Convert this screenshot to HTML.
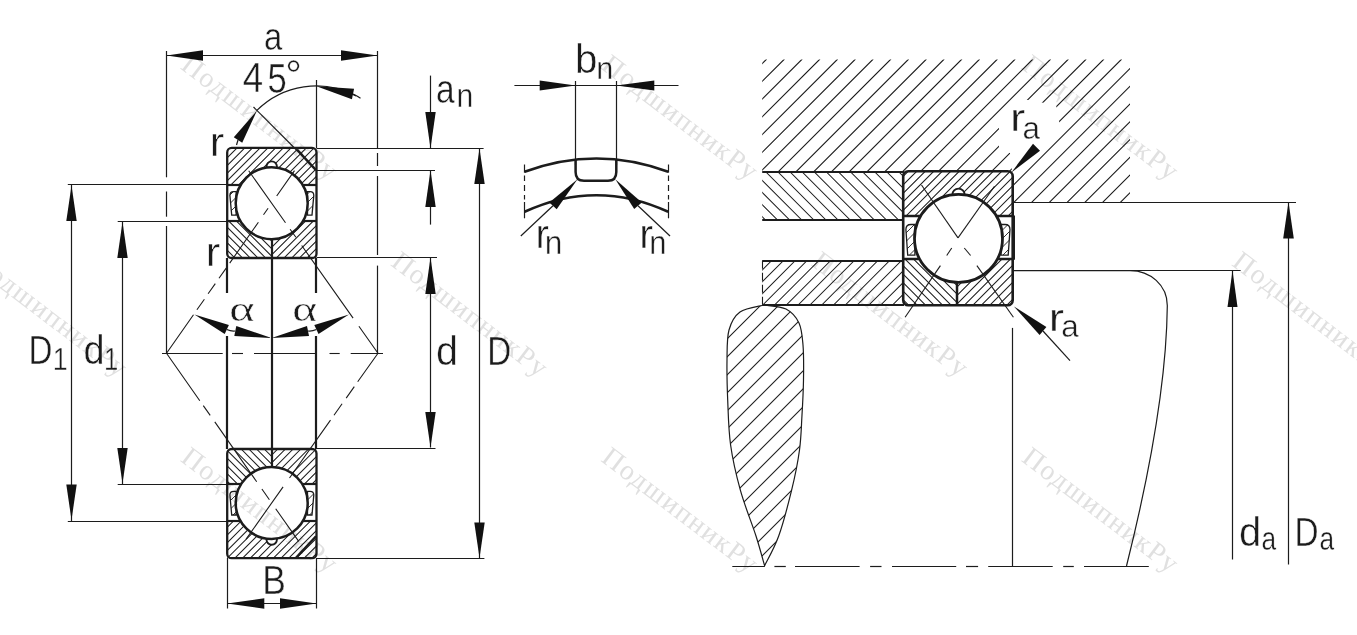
<!DOCTYPE html>
<html><head><meta charset="utf-8"><style>
html,body{margin:0;padding:0;background:#fff;}
svg{display:block;}
text{font-family:"Liberation Sans",sans-serif;}
text.wm,text.serif{font-family:"Liberation Serif",serif;}
</style></head><body>
<svg width="1357" height="635" viewBox="0 0 1357 635">
<rect width="1357" height="635" fill="#fff"/>
<line x1="166.5" y1="55.5" x2="377.5" y2="55.5" stroke="#1c1c1c" stroke-width="1.2" />
<polygon points="166.5,55.5 203.0,60.8 203.0,50.2" fill="#111"/>
<polygon points="377.5,55.5 341.0,50.2 341.0,60.8" fill="#111"/>
<line x1="166.5" y1="51.0" x2="166.5" y2="177.3" stroke="#1c1c1c" stroke-width="1.2" />
<line x1="166.5" y1="191.5" x2="166.5" y2="216.7" stroke="#1c1c1c" stroke-width="1.2" />
<line x1="166.5" y1="226.0" x2="166.5" y2="353.0" stroke="#1c1c1c" stroke-width="1.2" />
<line x1="377.5" y1="51.0" x2="377.5" y2="148.0" stroke="#1c1c1c" stroke-width="1.2" />
<line x1="377.5" y1="153.0" x2="377.5" y2="166.0" stroke="#1c1c1c" stroke-width="1.2" />
<line x1="377.5" y1="176.0" x2="377.5" y2="255.0" stroke="#1c1c1c" stroke-width="1.2" />
<line x1="377.5" y1="265.6" x2="377.5" y2="353.0" stroke="#1c1c1c" stroke-width="1.2" />
<path d="M256.6,110.7 A84.5,84.5 0 0 1 356.1,95.9" fill="none" stroke="#1c1c1c" stroke-width="1.2" />
<polygon points="316.4,86.2 351.9,99.2 354.1,88.8" fill="#111"/>
<path d="M353,94 Q357,95.8 360.5,98.3" fill="none" stroke="#1c1c1c" stroke-width="1.1" />
<line x1="316.5" y1="80.0" x2="316.5" y2="148.0" stroke="#1c1c1c" stroke-width="1.2" />
<line x1="253.5" y1="107.0" x2="297.5" y2="151.0" stroke="#1c1c1c" stroke-width="1.2" />
<polygon points="257.0,110.5 233.8,137.3 242.2,142.7" fill="#111"/>
<line x1="238.0" y1="140.0" x2="236.5" y2="145.0" stroke="#1c1c1c" stroke-width="1.2" />
<clipPath id="c1"><path d="M227.2,147.9 H316.5 V184.6 H227.2 Z"/></clipPath>
<path clip-path="url(#c1)" d="M221.70,147.9 L185.00,184.6 M229.40,147.9 L192.70,184.6 M237.10,147.9 L200.40,184.6 M244.80,147.9 L208.10,184.6 M252.50,147.9 L215.80,184.6 M260.20,147.9 L223.50,184.6 M267.90,147.9 L231.20,184.6 M275.60,147.9 L238.90,184.6 M283.30,147.9 L246.60,184.6 M291.00,147.9 L254.30,184.6 M298.70,147.9 L262.00,184.6 M306.40,147.9 L269.70,184.6 M314.10,147.9 L277.40,184.6 M321.80,147.9 L285.10,184.6 M329.50,147.9 L292.80,184.6 M337.20,147.9 L300.50,184.6 M344.90,147.9 L308.20,184.6 M352.60,147.9 L315.90,184.6" stroke="#1c1c1c" stroke-width="1.05" fill="none"/>
<clipPath id="c2"><path d="M227.2,221.1 H272.0 V258.0 H227.2 Z"/></clipPath>
<path clip-path="url(#c2)" d="M182.60,221.1 L219.50,258.0 M190.30,221.1 L227.20,258.0 M198.00,221.1 L234.90,258.0 M205.70,221.1 L242.60,258.0 M213.40,221.1 L250.30,258.0 M221.10,221.1 L258.00,258.0 M228.80,221.1 L265.70,258.0 M236.50,221.1 L273.40,258.0 M244.20,221.1 L281.10,258.0 M251.90,221.1 L288.80,258.0 M259.60,221.1 L296.50,258.0 M267.30,221.1 L304.20,258.0" stroke="#1c1c1c" stroke-width="1.05" fill="none"/>
<clipPath id="c3"><path d="M272.0,221.1 H316.5 V258.0 H272.0 Z"/></clipPath>
<path clip-path="url(#c3)" d="M267.00,221.1 L230.10,258.0 M274.70,221.1 L237.80,258.0 M282.40,221.1 L245.50,258.0 M290.10,221.1 L253.20,258.0 M297.80,221.1 L260.90,258.0 M305.50,221.1 L268.60,258.0 M313.20,221.1 L276.30,258.0 M320.90,221.1 L284.00,258.0 M328.60,221.1 L291.70,258.0 M336.30,221.1 L299.40,258.0 M344.00,221.1 L307.10,258.0 M351.70,221.1 L314.80,258.0" stroke="#1c1c1c" stroke-width="1.05" fill="none"/>
<rect x="227.2" y="184.6" width="89.30000000000001" height="36.5" fill="#fff"/>
<path d="M236.2,191.6 L236.2,215.1 L231.7,215.1 L229.89999999999998,195.38 Q229.89999999999998,191.6 233.67999999999998,191.6 Z" fill="#fff" stroke="#1c1c1c" stroke-width="1.3" />
<clipPath id="c4"><path d="M236.2,191.6 L236.2,215.1 L231.7,215.1 L229.89999999999998,195.38 Q229.89999999999998,191.6 233.67999999999998,191.6 Z"/></clipPath>
<path clip-path="url(#c4)" d="M224.90,191.6 L201.40,215.1 M233.40,191.6 L209.90,215.1 M241.90,191.6 L218.40,215.1 M250.40,191.6 L226.90,215.1 M258.90,191.6 L235.40,215.1" stroke="#1c1c1c" stroke-width="0.9" fill="none"/>
<path d="M307.5,191.6 L307.5,215.1 L312.0,215.1 L313.8,195.38 Q313.8,191.6 310.02000000000004,191.6 Z" fill="#fff" stroke="#1c1c1c" stroke-width="1.3" />
<clipPath id="c5"><path d="M307.5,191.6 L307.5,215.1 L312.0,215.1 L313.8,195.38 Q313.8,191.6 310.02000000000004,191.6 Z"/></clipPath>
<path clip-path="url(#c5)" d="M301.40,191.6 L277.90,215.1 M309.90,191.6 L286.40,215.1 M318.40,191.6 L294.90,215.1 M326.90,191.6 L303.40,215.1 M335.40,191.6 L311.90,215.1" stroke="#1c1c1c" stroke-width="0.9" fill="none"/>
<circle cx="271.7" cy="166.62" r="5.22" fill="#fff" stroke="#1c1c1c" stroke-width="1.9"/>
<circle cx="271.7" cy="203.2" r="36" fill="#fff" stroke="#1c1c1c" stroke-width="2.5"/>
<rect x="227.2" y="147.9" width="89.30000000000001" height="110.1" rx="4.5" fill="none" stroke="#1c1c1c" stroke-width="2.3"/>
<line x1="227.2" y1="185.0" x2="240.9" y2="185.0" stroke="#1c1c1c" stroke-width="2.1999999999999997" />
<line x1="302.5" y1="185.0" x2="316.5" y2="185.0" stroke="#1c1c1c" stroke-width="2.1999999999999997" />
<line x1="227.2" y1="221.0" x2="240.5" y2="221.0" stroke="#1c1c1c" stroke-width="2.1999999999999997" />
<line x1="302.9" y1="221.0" x2="316.5" y2="221.0" stroke="#1c1c1c" stroke-width="2.1999999999999997" />
<line x1="272.0" y1="239.2" x2="272.0" y2="258.0" stroke="#1c1c1c" stroke-width="2.1999999999999997" />
<line x1="297.2" y1="149.9" x2="316.0" y2="170.1" stroke="#1c1c1c" stroke-width="2.4" />
<clipPath id="c6"><path d="M227.2,521.0 H316.5 V558.2 H227.2 Z"/></clipPath>
<path clip-path="url(#c6)" d="M225.90,521.0 L188.70,558.2 M233.60,521.0 L196.40,558.2 M241.30,521.0 L204.10,558.2 M249.00,521.0 L211.80,558.2 M256.70,521.0 L219.50,558.2 M264.40,521.0 L227.20,558.2 M272.10,521.0 L234.90,558.2 M279.80,521.0 L242.60,558.2 M287.50,521.0 L250.30,558.2 M295.20,521.0 L258.00,558.2 M302.90,521.0 L265.70,558.2 M310.60,521.0 L273.40,558.2 M318.30,521.0 L281.10,558.2 M326.00,521.0 L288.80,558.2 M333.70,521.0 L296.50,558.2 M341.40,521.0 L304.20,558.2 M349.10,521.0 L311.90,558.2" stroke="#1c1c1c" stroke-width="1.05" fill="none"/>
<clipPath id="c7"><path d="M227.2,449.0 H272.0 V484.3 H227.2 Z"/></clipPath>
<path clip-path="url(#c7)" d="M187.20,449.0 L222.50,484.3 M194.90,449.0 L230.20,484.3 M202.60,449.0 L237.90,484.3 M210.30,449.0 L245.60,484.3 M218.00,449.0 L253.30,484.3 M225.70,449.0 L261.00,484.3 M233.40,449.0 L268.70,484.3 M241.10,449.0 L276.40,484.3 M248.80,449.0 L284.10,484.3 M256.50,449.0 L291.80,484.3 M264.20,449.0 L299.50,484.3 M271.90,449.0 L307.20,484.3" stroke="#1c1c1c" stroke-width="1.05" fill="none"/>
<clipPath id="c8"><path d="M272.0,449.0 H316.5 V484.3 H272.0 Z"/></clipPath>
<path clip-path="url(#c8)" d="M270.10,449.0 L234.80,484.3 M277.80,449.0 L242.50,484.3 M285.50,449.0 L250.20,484.3 M293.20,449.0 L257.90,484.3 M300.90,449.0 L265.60,484.3 M308.60,449.0 L273.30,484.3 M316.30,449.0 L281.00,484.3 M324.00,449.0 L288.70,484.3 M331.70,449.0 L296.40,484.3 M339.40,449.0 L304.10,484.3 M347.10,449.0 L311.80,484.3" stroke="#1c1c1c" stroke-width="1.05" fill="none"/>
<rect x="227.2" y="484.3" width="89.30000000000001" height="36.69999999999999" fill="#fff"/>
<path d="M236.2,491.3 L236.2,515.0 L231.7,515.0 L229.89999999999998,495.08 Q229.89999999999998,491.3 233.67999999999998,491.3 Z" fill="#fff" stroke="#1c1c1c" stroke-width="1.3" />
<clipPath id="c9"><path d="M236.2,491.3 L236.2,515.0 L231.7,515.0 L229.89999999999998,495.08 Q229.89999999999998,491.3 233.67999999999998,491.3 Z"/></clipPath>
<path clip-path="url(#c9)" d="M222.70,491.3 L199.00,515.0 M231.20,491.3 L207.50,515.0 M239.70,491.3 L216.00,515.0 M248.20,491.3 L224.50,515.0 M256.70,491.3 L233.00,515.0" stroke="#1c1c1c" stroke-width="0.9" fill="none"/>
<path d="M307.5,491.3 L307.5,515.0 L312.0,515.0 L313.8,495.08 Q313.8,491.3 310.02000000000004,491.3 Z" fill="#fff" stroke="#1c1c1c" stroke-width="1.3" />
<clipPath id="c10"><path d="M307.5,491.3 L307.5,515.0 L312.0,515.0 L313.8,495.08 Q313.8,491.3 310.02000000000004,491.3 Z"/></clipPath>
<path clip-path="url(#c10)" d="M299.20,491.3 L275.50,515.0 M307.70,491.3 L284.00,515.0 M316.20,491.3 L292.50,515.0 M324.70,491.3 L301.00,515.0 M333.20,491.3 L309.50,515.0" stroke="#1c1c1c" stroke-width="0.9" fill="none"/>
<circle cx="271.7" cy="539.58" r="5.22" fill="#fff" stroke="#1c1c1c" stroke-width="1.9"/>
<circle cx="271.7" cy="503.0" r="36" fill="#fff" stroke="#1c1c1c" stroke-width="2.5"/>
<rect x="227.2" y="449.0" width="89.30000000000001" height="109.20000000000005" rx="4.5" fill="none" stroke="#1c1c1c" stroke-width="2.3"/>
<line x1="227.2" y1="484.0" x2="240.9" y2="484.0" stroke="#1c1c1c" stroke-width="2.1999999999999997" />
<line x1="302.5" y1="484.0" x2="316.5" y2="484.0" stroke="#1c1c1c" stroke-width="2.1999999999999997" />
<line x1="227.2" y1="521.0" x2="240.5" y2="521.0" stroke="#1c1c1c" stroke-width="2.1999999999999997" />
<line x1="302.9" y1="521.0" x2="316.5" y2="521.0" stroke="#1c1c1c" stroke-width="2.1999999999999997" />
<line x1="272.0" y1="449.0" x2="272.0" y2="467.0" stroke="#1c1c1c" stroke-width="2.1999999999999997" />
<line x1="296.0" y1="557.7" x2="316.0" y2="536.2" stroke="#1c1c1c" stroke-width="2.4" />
<line x1="272.0" y1="258.0" x2="272.0" y2="449.0" stroke="#1c1c1c" stroke-width="2.2" />
<line x1="227.0" y1="258.0" x2="227.0" y2="293.0" stroke="#1c1c1c" stroke-width="2.2" />
<line x1="227.0" y1="336.0" x2="227.0" y2="449.0" stroke="#1c1c1c" stroke-width="2.2" />
<line x1="316.0" y1="258.0" x2="316.0" y2="293.0" stroke="#1c1c1c" stroke-width="2.2" />
<line x1="316.0" y1="336.0" x2="316.0" y2="449.0" stroke="#1c1c1c" stroke-width="2.2" />
<line x1="67.8" y1="184.5" x2="227.2" y2="184.5" stroke="#1c1c1c" stroke-width="1.2" />
<line x1="71.5" y1="184.6" x2="71.5" y2="521.0" stroke="#1c1c1c" stroke-width="1.2" />
<polygon points="71.5,185.5 66.3,221.0 76.7,221.0" fill="#111"/>
<polygon points="71.5,520.0 76.7,484.5 66.3,484.5" fill="#111"/>
<line x1="67.8" y1="521.5" x2="227.2" y2="521.5" stroke="#1c1c1c" stroke-width="1.2" />
<line x1="117.7" y1="221.5" x2="227.2" y2="221.5" stroke="#1c1c1c" stroke-width="1.2" />
<line x1="122.5" y1="221.1" x2="122.5" y2="484.3" stroke="#1c1c1c" stroke-width="1.2" />
<polygon points="122.5,222.0 117.3,258.0 127.7,258.0" fill="#111"/>
<polygon points="122.5,483.5 127.7,448.0 117.3,448.0" fill="#111"/>
<line x1="117.7" y1="484.5" x2="227.2" y2="484.5" stroke="#1c1c1c" stroke-width="1.2" />
<line x1="316.5" y1="148.5" x2="483.6" y2="148.5" stroke="#1c1c1c" stroke-width="1.2" />
<line x1="316.5" y1="170.5" x2="435.0" y2="170.5" stroke="#1c1c1c" stroke-width="1.2" />
<line x1="316.5" y1="257.5" x2="437.0" y2="257.5" stroke="#1c1c1c" stroke-width="1.2" />
<line x1="316.5" y1="448.5" x2="435.5" y2="448.5" stroke="#1c1c1c" stroke-width="1.2" />
<line x1="316.5" y1="558.5" x2="484.4" y2="558.5" stroke="#1c1c1c" stroke-width="1.2" />
<line x1="430.5" y1="75.6" x2="430.5" y2="148.4" stroke="#1c1c1c" stroke-width="1.2" />
<polygon points="430.5,148.4 435.7,112.0 425.3,112.0" fill="#111"/>
<line x1="430.5" y1="170.2" x2="430.5" y2="224.6" stroke="#1c1c1c" stroke-width="1.2" />
<polygon points="430.5,170.2 425.3,207.0 435.7,207.0" fill="#111"/>
<line x1="430.5" y1="257.6" x2="430.5" y2="447.5" stroke="#1c1c1c" stroke-width="1.2" />
<polygon points="430.5,257.6 425.3,294.0 435.7,294.0" fill="#111"/>
<polygon points="430.5,447.5 435.7,412.0 425.3,412.0" fill="#111"/>
<line x1="479.5" y1="148.4" x2="479.5" y2="558.0" stroke="#1c1c1c" stroke-width="1.2" />
<polygon points="479.5,148.4 474.3,184.0 484.7,184.0" fill="#111"/>
<polygon points="479.5,558.0 484.7,522.4 474.3,522.4" fill="#111"/>
<line x1="227.5" y1="558.0" x2="227.5" y2="608.5" stroke="#1c1c1c" stroke-width="1.2" />
<line x1="316.5" y1="558.0" x2="316.5" y2="608.5" stroke="#1c1c1c" stroke-width="1.2" />
<line x1="227.2" y1="603.5" x2="316.5" y2="603.5" stroke="#1c1c1c" stroke-width="1.2" />
<polygon points="227.2,603.5 264.3,608.7 264.3,598.3" fill="#111"/>
<polygon points="316.5,603.5 280.0,598.3 280.0,608.7" fill="#111"/>
<line x1="162.0" y1="353.5" x2="222.7" y2="353.5" stroke="#1c1c1c" stroke-width="1.1" />
<line x1="232.0" y1="353.5" x2="243.0" y2="353.5" stroke="#1c1c1c" stroke-width="1.1" />
<line x1="254.0" y1="353.5" x2="316.0" y2="353.5" stroke="#1c1c1c" stroke-width="1.1" />
<line x1="329.5" y1="353.5" x2="339.7" y2="353.5" stroke="#1c1c1c" stroke-width="1.1" />
<line x1="350.7" y1="353.5" x2="383.0" y2="353.5" stroke="#1c1c1c" stroke-width="1.1" />
<path d="M166.5,353.2 L193.5,314.7 M196.9,309.8 L204.4,299.2 M208.1,293.8 L215.3,283.6 M219.0,278.3 L226.2,268.1 M229.7,263.1 L258.4,222.2 M263.5,214.8 L268.1,208.3 M276.7,196.0 L294.5,170.6" stroke="#1c1c1c" stroke-width="1.1" fill="none"/>
<path d="M378.0,353.2 L358.9,326.3 M353.1,318.1 L301.7,245.5 M295.9,237.3 L290.1,229.2 M285.5,222.7 L248.7,170.8" stroke="#1c1c1c" stroke-width="1.1" fill="none"/>
<path d="M166.5,353.2 L199.8,400.7 M203.3,405.6 L210.2,415.4 M214.8,421.9 L256.7,481.7 M261.9,489.0 L269.4,499.7 M275.7,508.7 L298.7,541.4" stroke="#1c1c1c" stroke-width="1.1" fill="none"/>
<path d="M378.0,353.2 L357.7,381.7 M354.3,386.6 L346.2,398.1 M342.1,403.8 L334.0,415.2 M330.5,420.1 L289.5,478.0 M283.1,486.9 L246.1,539.1" stroke="#1c1c1c" stroke-width="1.1" fill="none"/>
<polygon points="194.4,314.6 224.7,334.1 228.9,325.1" fill="#111"/>
<polygon points="271.6,338.1 236.3,326.1 234.3,335.9" fill="#111"/>
<polygon points="349.0,314.6 314.3,325.1 318.5,334.1" fill="#111"/>
<polygon points="271.6,338.1 309.0,335.9 307.0,326.1" fill="#111"/>
<path d="M226.8,329.6 Q231,331.5 235.3,331" fill="none" stroke="#1c1c1c" stroke-width="1.1" />
<path d="M316.4,329.6 Q312,331.5 308,331" fill="none" stroke="#1c1c1c" stroke-width="1.1" />
<line x1="514.4" y1="85.5" x2="678.5" y2="85.5" stroke="#1c1c1c" stroke-width="1.2" />
<polygon points="575.6,85.5 539.7,80.5 539.7,90.5" fill="#111"/>
<polygon points="616.3,85.5 654.3,90.5 654.3,80.5" fill="#111"/>
<line x1="575.5" y1="81.0" x2="575.5" y2="165.0" stroke="#1c1c1c" stroke-width="1.2" />
<line x1="616.5" y1="81.0" x2="616.5" y2="165.0" stroke="#1c1c1c" stroke-width="1.2" />
<path d="M524.6,171.8 Q596.4,145.2 668.2,171.8" fill="none" stroke="#1c1c1c" stroke-width="2.6" />
<path d="M524.6,211.8 Q596.4,178.6 668.2,211.8" fill="none" stroke="#1c1c1c" stroke-width="2.6" />
<path d="M575.6,159.5 V172 Q575.6,180.8 584,180.8 H608 Q616.3,180.8 616.3,172 V159.5" fill="none" stroke="#1c1c1c" stroke-width="2.5" />
<line x1="524.5" y1="164.5" x2="524.5" y2="172.7" stroke="#1c1c1c" stroke-width="1.2" />
<line x1="524.5" y1="175.5" x2="524.5" y2="181.0" stroke="#1c1c1c" stroke-width="1.2" />
<line x1="524.5" y1="185.0" x2="524.5" y2="191.0" stroke="#1c1c1c" stroke-width="1.2" />
<line x1="524.5" y1="195.0" x2="524.5" y2="199.5" stroke="#1c1c1c" stroke-width="1.2" />
<line x1="524.5" y1="202.0" x2="524.5" y2="218.3" stroke="#1c1c1c" stroke-width="1.2" />
<line x1="668.5" y1="164.5" x2="668.5" y2="172.7" stroke="#1c1c1c" stroke-width="1.2" />
<line x1="668.5" y1="175.5" x2="668.5" y2="181.0" stroke="#1c1c1c" stroke-width="1.2" />
<line x1="668.5" y1="185.0" x2="668.5" y2="191.0" stroke="#1c1c1c" stroke-width="1.2" />
<line x1="668.5" y1="195.0" x2="668.5" y2="199.5" stroke="#1c1c1c" stroke-width="1.2" />
<line x1="668.5" y1="202.0" x2="668.5" y2="218.3" stroke="#1c1c1c" stroke-width="1.2" />
<polygon points="577.5,179.3 549.3,202.4 556.7,209.2" fill="#111"/>
<line x1="553.0" y1="205.8" x2="520.8" y2="236.0" stroke="#1c1c1c" stroke-width="1.2" />
<polygon points="615.3,179.3 634.2,209.1 641.8,202.5" fill="#111"/>
<line x1="638.0" y1="205.8" x2="670.0" y2="236.0" stroke="#1c1c1c" stroke-width="1.2" />
<clipPath id="c11"><path d="M762.2,59.4 H1130 V202.1 H1012.7 V171.3 H762.2 Z"/></clipPath>
<path clip-path="url(#c11)" d="M749.00,59 L605.00,203 M766.75,59 L622.75,203 M784.50,59 L640.50,203 M802.25,59 L658.25,203 M820.00,59 L676.00,203 M837.75,59 L693.75,203 M855.50,59 L711.50,203 M873.25,59 L729.25,203 M891.00,59 L747.00,203 M908.75,59 L764.75,203 M926.50,59 L782.50,203 M944.25,59 L800.25,203 M962.00,59 L818.00,203 M979.75,59 L835.75,203 M997.50,59 L853.50,203 M1015.25,59 L871.25,203 M1033.00,59 L889.00,203 M1050.75,59 L906.75,203 M1068.50,59 L924.50,203 M1086.25,59 L942.25,203 M1104.00,59 L960.00,203 M1121.75,59 L977.75,203 M1139.50,59 L995.50,203 M1157.25,59 L1013.25,203 M1175.00,59 L1031.00,203 M1192.75,59 L1048.75,203 M1210.50,59 L1066.50,203 M1228.25,59 L1084.25,203 M1246.00,59 L1102.00,203 M1263.75,59 L1119.75,203" stroke="#1c1c1c" stroke-width="1.1" fill="none"/>
<polygon points="999,113 1022,99 1056,105 1060,126 1040,146 1026,171 1012,171 1010,153 999,149" fill="#fff"/>
<clipPath id="c12"><path d="M762.2,171.3 H904 V219.7 H762.2 Z"/></clipPath>
<path clip-path="url(#c12)" d="M704.40,171 L753.40,220 M716.50,171 L765.50,220 M728.60,171 L777.60,220 M740.70,171 L789.70,220 M752.80,171 L801.80,220 M764.90,171 L813.90,220 M777.00,171 L826.00,220 M789.10,171 L838.10,220 M801.20,171 L850.20,220 M813.30,171 L862.30,220 M825.40,171 L874.40,220 M837.50,171 L886.50,220 M849.60,171 L898.60,220 M861.70,171 L910.70,220 M873.80,171 L922.80,220 M885.90,171 L934.90,220 M898.00,171 L947.00,220" stroke="#1c1c1c" stroke-width="1.05" fill="none"/>
<clipPath id="c13"><path d="M762.2,260.8 H904 V304.9 H762.2 Z"/></clipPath>
<path clip-path="url(#c13)" d="M760.50,260 L715.50,305 M772.30,260 L727.30,305 M784.10,260 L739.10,305 M795.90,260 L750.90,305 M807.70,260 L762.70,305 M819.50,260 L774.50,305 M831.30,260 L786.30,305 M843.10,260 L798.10,305 M854.90,260 L809.90,305 M866.70,260 L821.70,305 M878.50,260 L833.50,305 M890.30,260 L845.30,305 M902.10,260 L857.10,305 M913.90,260 L868.90,305 M925.70,260 L880.70,305 M937.50,260 L892.50,305" stroke="#1c1c1c" stroke-width="1.05" fill="none"/>
<line x1="762.2" y1="172.0" x2="904.0" y2="172.0" stroke="#1c1c1c" stroke-width="2.2" />
<line x1="762.2" y1="220.0" x2="904.0" y2="220.0" stroke="#1c1c1c" stroke-width="2.2" />
<line x1="762.2" y1="261.0" x2="904.0" y2="261.0" stroke="#1c1c1c" stroke-width="2.2" />
<line x1="762.2" y1="305.0" x2="904.0" y2="305.0" stroke="#1c1c1c" stroke-width="2.2" />
<line x1="762.5" y1="260.8" x2="762.5" y2="304.9" stroke="#1c1c1c" stroke-width="1.1" stroke-dasharray="8,4"/>
<clipPath id="c14"><path d="M903.2,171.3 H1012.7 V216.0 H903.2 Z"/></clipPath>
<path clip-path="url(#c14)" d="M899.70,171.3 L855.00,216.0 M908.20,171.3 L863.50,216.0 M916.70,171.3 L872.00,216.0 M925.20,171.3 L880.50,216.0 M933.70,171.3 L889.00,216.0 M942.20,171.3 L897.50,216.0 M950.70,171.3 L906.00,216.0 M959.20,171.3 L914.50,216.0 M967.70,171.3 L923.00,216.0 M976.20,171.3 L931.50,216.0 M984.70,171.3 L940.00,216.0 M993.20,171.3 L948.50,216.0 M1001.70,171.3 L957.00,216.0 M1010.20,171.3 L965.50,216.0 M1018.70,171.3 L974.00,216.0 M1027.20,171.3 L982.50,216.0 M1035.70,171.3 L991.00,216.0 M1044.20,171.3 L999.50,216.0 M1052.70,171.3 L1008.00,216.0" stroke="#1c1c1c" stroke-width="1.05" fill="none"/>
<clipPath id="c15"><path d="M903.2,259.1 H957 V305.3 H903.2 Z"/></clipPath>
<path clip-path="url(#c15)" d="M854.10,259.1 L900.30,305.3 M862.60,259.1 L908.80,305.3 M871.10,259.1 L917.30,305.3 M879.60,259.1 L925.80,305.3 M888.10,259.1 L934.30,305.3 M896.60,259.1 L942.80,305.3 M905.10,259.1 L951.30,305.3 M913.60,259.1 L959.80,305.3 M922.10,259.1 L968.30,305.3 M930.60,259.1 L976.80,305.3 M939.10,259.1 L985.30,305.3 M947.60,259.1 L993.80,305.3 M956.10,259.1 L1002.30,305.3" stroke="#1c1c1c" stroke-width="1.05" fill="none"/>
<clipPath id="c16"><path d="M957,259.1 H1012.7 V305.3 H957 Z"/></clipPath>
<path clip-path="url(#c16)" d="M950.90,259.1 L904.70,305.3 M959.40,259.1 L913.20,305.3 M967.90,259.1 L921.70,305.3 M976.40,259.1 L930.20,305.3 M984.90,259.1 L938.70,305.3 M993.40,259.1 L947.20,305.3 M1001.90,259.1 L955.70,305.3 M1010.40,259.1 L964.20,305.3 M1018.90,259.1 L972.70,305.3 M1027.40,259.1 L981.20,305.3 M1035.90,259.1 L989.70,305.3 M1044.40,259.1 L998.20,305.3 M1052.90,259.1 L1006.70,305.3" stroke="#1c1c1c" stroke-width="1.05" fill="none"/>
<rect x="903.2" y="216.0" width="109.5" height="43.10000000000002" fill="#fff"/>
<path d="M914.9000000000001,224.5 L914.9000000000001,255.10000000000002 L907.7,255.10000000000002 L905.9000000000001,229.5 Q905.9000000000001,224.5 910.9000000000001,224.5 Z" fill="#fff" stroke="#1c1c1c" stroke-width="1.3" />
<clipPath id="c17"><path d="M914.9000000000001,224.5 L914.9000000000001,255.10000000000002 L907.7,255.10000000000002 L905.9000000000001,229.5 Q905.9000000000001,224.5 910.9000000000001,224.5 Z"/></clipPath>
<path clip-path="url(#c17)" d="M897.50,224.5 L866.90,255.10000000000002 M906.00,224.5 L875.40,255.10000000000002 M914.50,224.5 L883.90,255.10000000000002 M923.00,224.5 L892.40,255.10000000000002 M931.50,224.5 L900.90,255.10000000000002 M940.00,224.5 L909.40,255.10000000000002" stroke="#1c1c1c" stroke-width="0.9" fill="none"/>
<path d="M1001.0,224.5 L1001.0,255.10000000000002 L1008.2,255.10000000000002 L1010.0,229.5 Q1010.0,224.5 1005.0,224.5 Z" fill="#fff" stroke="#1c1c1c" stroke-width="1.3" />
<clipPath id="c18"><path d="M1001.0,224.5 L1001.0,255.10000000000002 L1008.2,255.10000000000002 L1010.0,229.5 Q1010.0,224.5 1005.0,224.5 Z"/></clipPath>
<path clip-path="url(#c18)" d="M991.00,224.5 L960.40,255.10000000000002 M999.50,224.5 L968.90,255.10000000000002 M1008.00,224.5 L977.40,255.10000000000002 M1016.50,224.5 L985.90,255.10000000000002 M1025.00,224.5 L994.40,255.10000000000002 M1033.50,224.5 L1002.90,255.10000000000002 M1042.00,224.5 L1011.40,255.10000000000002" stroke="#1c1c1c" stroke-width="0.9" fill="none"/>
<circle cx="958.5" cy="194.78" r="6.17" fill="#fff" stroke="#1c1c1c" stroke-width="1.9"/>
<circle cx="958.5" cy="238.4" r="44" fill="#fff" stroke="#1c1c1c" stroke-width="2.8000000000000003"/>
<rect x="903.2" y="171.3" width="109.5" height="134.0" rx="5" fill="none" stroke="#1c1c1c" stroke-width="2.6"/>
<line x1="903.2" y1="216.0" x2="920.6" y2="216.0" stroke="#1c1c1c" stroke-width="2.5" />
<line x1="996.4" y1="216.0" x2="1012.7" y2="216.0" stroke="#1c1c1c" stroke-width="2.5" />
<line x1="903.2" y1="259.0" x2="919.7" y2="259.0" stroke="#1c1c1c" stroke-width="2.5" />
<line x1="997.3" y1="259.0" x2="1012.7" y2="259.0" stroke="#1c1c1c" stroke-width="2.5" />
<line x1="957.0" y1="282.4" x2="957.0" y2="305.3" stroke="#1c1c1c" stroke-width="2.5" />
<line x1="1014.0" y1="215.5" x2="1014.0" y2="259.8" stroke="#1c1c1c" stroke-width="2.0" />
<line x1="921.5" y1="185.0" x2="958.0" y2="237.9" stroke="#1c1c1c" stroke-width="1.1" />
<line x1="994.5" y1="186.3" x2="958.0" y2="237.9" stroke="#1c1c1c" stroke-width="1.1" />
<line x1="946.7" y1="255.5" x2="951.7" y2="248.0" stroke="#1c1c1c" stroke-width="1.1" />
<line x1="964.3" y1="248.0" x2="970.6" y2="255.5" stroke="#1c1c1c" stroke-width="1.1" />
<line x1="940.4" y1="265.6" x2="905.1" y2="317.2" stroke="#1c1c1c" stroke-width="1.1" />
<line x1="976.9" y1="265.6" x2="1013.4" y2="317.2" stroke="#1c1c1c" stroke-width="1.1" />
<line x1="1012.7" y1="202.5" x2="1296.0" y2="202.5" stroke="#1c1c1c" stroke-width="1.2" />
<line x1="1012.7" y1="270.5" x2="1240.6" y2="270.5" stroke="#1c1c1c" stroke-width="1.2" />
<line x1="1288.5" y1="202.1" x2="1288.5" y2="564.6" stroke="#1c1c1c" stroke-width="1.2" />
<polygon points="1288.5,202.1 1283.2,238.6 1293.8,238.6" fill="#111"/>
<line x1="1232.5" y1="270.6" x2="1232.5" y2="559.6" stroke="#1c1c1c" stroke-width="1.2" />
<polygon points="1232.5,270.6 1227.5,307.0 1237.5,307.0" fill="#111"/>
<clipPath id="c19"><path d="M764,305 C767.7,305.7 780.2,306.0 786,309 C791.8,312.0 796.2,317.0 799,323 C801.8,329.0 802.2,335.5 803,345 C803.8,354.5 803.7,368.3 803.5,380 C803.3,391.7 802.7,403.3 802,415 C801.3,426.7 801.2,437.4 799.5,450 C797.8,462.6 795.0,476.4 791.5,490.7 C788.0,505.0 783.2,523.5 778.7,536 C774.2,548.5 767.0,560.8 764.6,565.7  C763.2,560.8 760.0,548.5 756,536 C752.0,523.5 744.7,505.9 740.5,490.7 C736.3,475.5 732.7,460.1 730.6,445 C728.5,429.9 728.3,414.2 727.7,400 C727.1,385.8 726.8,371.7 727,360 C727.2,348.3 726.8,338.0 729,330 C731.2,322.0 734.2,316.2 740,312 C745.8,307.8 760.0,306.2 764,305 Z"/></clipPath>
<path clip-path="url(#c19)" d="M712.00,300 L442.00,570 M730.00,300 L460.00,570 M748.00,300 L478.00,570 M766.00,300 L496.00,570 M784.00,300 L514.00,570 M802.00,300 L532.00,570 M820.00,300 L550.00,570 M838.00,300 L568.00,570 M856.00,300 L586.00,570 M874.00,300 L604.00,570 M892.00,300 L622.00,570 M910.00,300 L640.00,570 M928.00,300 L658.00,570 M946.00,300 L676.00,570 M964.00,300 L694.00,570 M982.00,300 L712.00,570 M1000.00,300 L730.00,570 M1018.00,300 L748.00,570 M1036.00,300 L766.00,570 M1054.00,300 L784.00,570 M1072.00,300 L802.00,570" stroke="#1c1c1c" stroke-width="1.05" fill="none"/>
<path d="M764,305 C767.7,305.7 780.2,306.0 786,309 C791.8,312.0 796.2,317.0 799,323 C801.8,329.0 802.2,335.5 803,345 C803.8,354.5 803.7,368.3 803.5,380 C803.3,391.7 802.7,403.3 802,415 C801.3,426.7 801.2,437.4 799.5,450 C797.8,462.6 795.0,476.4 791.5,490.7 C788.0,505.0 783.2,523.5 778.7,536 C774.2,548.5 767.0,560.8 764.6,565.7  C763.2,560.8 760.0,548.5 756,536 C752.0,523.5 744.7,505.9 740.5,490.7 C736.3,475.5 732.7,460.1 730.6,445 C728.5,429.9 728.3,414.2 727.7,400 C727.1,385.8 726.8,371.7 727,360 C727.2,348.3 726.8,338.0 729,330 C731.2,322.0 734.2,316.2 740,312 C745.8,307.8 760.0,306.2 764,305 Z" fill="none" stroke="#1c1c1c" stroke-width="1.2" />
<line x1="732.3" y1="566.5" x2="764.7" y2="566.5" stroke="#1c1c1c" stroke-width="1.2" />
<line x1="774.4" y1="566.5" x2="785.8" y2="566.5" stroke="#1c1c1c" stroke-width="1.2" />
<line x1="795.0" y1="566.5" x2="859.6" y2="566.5" stroke="#1c1c1c" stroke-width="1.2" />
<line x1="870.1" y1="566.5" x2="881.5" y2="566.5" stroke="#1c1c1c" stroke-width="1.2" />
<line x1="892.0" y1="566.5" x2="956.2" y2="566.5" stroke="#1c1c1c" stroke-width="1.2" />
<line x1="966.0" y1="566.5" x2="978.1" y2="566.5" stroke="#1c1c1c" stroke-width="1.2" />
<line x1="988.2" y1="566.5" x2="1052.7" y2="566.5" stroke="#1c1c1c" stroke-width="1.2" />
<line x1="1063.2" y1="566.5" x2="1073.8" y2="566.5" stroke="#1c1c1c" stroke-width="1.2" />
<line x1="1084.0" y1="566.5" x2="1148.8" y2="566.5" stroke="#1c1c1c" stroke-width="1.2" />
<line x1="1012.5" y1="327.9" x2="1012.5" y2="566.0" stroke="#1c1c1c" stroke-width="1.2" />
<path d="M1012.7,270.6 H1129.8 C1150,270.5 1167.5,285 1167.3,306 C1166.5,382 1150,472 1126.5,566" fill="none" stroke="#1c1c1c" stroke-width="1.2" />
<polygon points="1011.4,172.4 1040.0,150.8 1033.0,143.8" fill="#111"/>
<polygon points="1014.0,306.5 1039.6,335.0 1046.4,327.0" fill="#111"/>
<line x1="1043.0" y1="331.0" x2="1070.0" y2="360.6" stroke="#1c1c1c" stroke-width="1.2" />
<text transform="translate(264.00,50.22) scale(0.3282,0.3953)" font-size="100" fill="#1c1c1c" stroke="#fff" stroke-width="1.113">a</text>
<text transform="translate(242.86,92.22) scale(0.3668,0.4209)" font-size="100" fill="#1c1c1c" stroke="#fff" stroke-width="1.045">4</text>
<text transform="translate(267.40,92.80) scale(0.3461,0.4234)" font-size="100" fill="#1c1c1c" stroke="#fff" stroke-width="1.039">5</text>
<text transform="translate(285.19,90.13) scale(0.4157,0.4193)" font-size="100" fill="#1c1c1c" stroke="#fff" stroke-width="1.049">°</text>
<text transform="translate(209.86,156.12) scale(0.4336,0.3989)" font-size="100" fill="#1c1c1c" stroke="#fff" stroke-width="1.103">r</text>
<text transform="translate(205.86,266.12) scale(0.4336,0.3989)" font-size="100" fill="#1c1c1c" stroke="#fff" stroke-width="1.103">r</text>
<text transform="translate(28.43,364.22) scale(0.3318,0.4122)" font-size="100" fill="#1c1c1c" stroke="#fff" stroke-width="1.068">D</text>
<text transform="translate(52.67,370.22) scale(0.2684,0.3107)" font-size="100" fill="#1c1c1c" stroke="#fff" stroke-width="1.416">1</text>
<text transform="translate(83.47,364.22) scale(0.3787,0.4033)" font-size="100" fill="#1c1c1c" stroke="#fff" stroke-width="1.091">d</text>
<text transform="translate(103.95,370.22) scale(0.2567,0.3107)" font-size="100" fill="#1c1c1c" stroke="#fff" stroke-width="1.416">1</text>
<text transform="translate(436.10,364.61) scale(0.3942,0.4101)" font-size="100" fill="#1c1c1c" stroke="#fff" stroke-width="1.073">d</text>
<text transform="translate(487.33,365.02) scale(0.3318,0.4122)" font-size="100" fill="#1c1c1c" stroke="#fff" stroke-width="1.068">D</text>
<text transform="translate(262.35,594.12) scale(0.3540,0.4093)" font-size="100" fill="#1c1c1c" stroke="#fff" stroke-width="1.075">B</text>
<text class="serif" transform="translate(229.15,320.66) scale(0.4813,0.3633)" font-size="100" fill="#1c1c1c" stroke="#fff" stroke-width="1.211">α</text>
<text class="serif" transform="translate(292.19,320.66) scale(0.4726,0.3633)" font-size="100" fill="#1c1c1c" stroke="#fff" stroke-width="1.211">α</text>
<text transform="translate(436.08,102.71) scale(0.3341,0.4062)" font-size="100" fill="#1c1c1c" stroke="#fff" stroke-width="1.083">a</text>
<text transform="translate(456.52,107.02) scale(0.3021,0.3230)" font-size="100" fill="#1c1c1c" stroke="#fff" stroke-width="1.362">n</text>
<text transform="translate(575.06,73.41) scale(0.4031,0.4073)" font-size="100" fill="#1c1c1c" stroke="#fff" stroke-width="1.080">b</text>
<text transform="translate(596.19,78.92) scale(0.3068,0.3211)" font-size="100" fill="#1c1c1c" stroke="#fff" stroke-width="1.370">n</text>
<text transform="translate(535.47,248.42) scale(0.4016,0.4081)" font-size="100" fill="#1c1c1c" stroke="#fff" stroke-width="1.078">r</text>
<text transform="translate(544.82,254.12) scale(0.3162,0.3285)" font-size="100" fill="#1c1c1c" stroke="#fff" stroke-width="1.339">n</text>
<text transform="translate(639.29,248.42) scale(0.4136,0.4081)" font-size="100" fill="#1c1c1c" stroke="#fff" stroke-width="1.078">r</text>
<text transform="translate(649.37,254.12) scale(0.3092,0.3285)" font-size="100" fill="#1c1c1c" stroke="#fff" stroke-width="1.339">n</text>
<text transform="translate(1009.91,131.02) scale(0.4576,0.3952)" font-size="100" fill="#1c1c1c" stroke="#fff" stroke-width="1.113">r</text>
<text transform="translate(1022.46,138.51) scale(0.3145,0.3098)" font-size="100" fill="#1c1c1c" stroke="#fff" stroke-width="1.420">a</text>
<text transform="translate(1048.81,331.02) scale(0.4576,0.3952)" font-size="100" fill="#1c1c1c" stroke="#fff" stroke-width="1.113">r</text>
<text transform="translate(1061.36,337.41) scale(0.3145,0.3098)" font-size="100" fill="#1c1c1c" stroke="#fff" stroke-width="1.420">a</text>
<text transform="translate(1239.09,545.51) scale(0.3987,0.4087)" font-size="100" fill="#1c1c1c" stroke="#fff" stroke-width="1.077">d</text>
<text transform="translate(1261.39,550.40) scale(0.2635,0.3244)" font-size="100" fill="#1c1c1c" stroke="#fff" stroke-width="1.357">a</text>
<text transform="translate(1294.41,545.52) scale(0.3334,0.4122)" font-size="100" fill="#1c1c1c" stroke="#fff" stroke-width="1.068">D</text>
<text transform="translate(1319.39,550.40) scale(0.2635,0.3244)" font-size="100" fill="#1c1c1c" stroke="#fff" stroke-width="1.357">a</text>
<text class="wm" style="mix-blend-mode:multiply" transform="translate(179.5,68) rotate(37.2)" font-size="28" letter-spacing="1.5" fill="#e0e0e0">ПодшипникРу</text>
<text class="wm" style="mix-blend-mode:multiply" transform="translate(600.0,68) rotate(37.2)" font-size="28" letter-spacing="1.5" fill="#e0e0e0">ПодшипникРу</text>
<text class="wm" style="mix-blend-mode:multiply" transform="translate(1020.5,68) rotate(37.2)" font-size="28" letter-spacing="1.5" fill="#e0e0e0">ПодшипникРу</text>
<text class="wm" style="mix-blend-mode:multiply" transform="translate(-30.75,264.7) rotate(37.2)" font-size="28" letter-spacing="1.5" fill="#e0e0e0">ПодшипникРу</text>
<text class="wm" style="mix-blend-mode:multiply" transform="translate(389.75,264.7) rotate(37.2)" font-size="28" letter-spacing="1.5" fill="#e0e0e0">ПодшипникРу</text>
<text class="wm" style="mix-blend-mode:multiply" transform="translate(810.25,264.7) rotate(37.2)" font-size="28" letter-spacing="1.5" fill="#e0e0e0">ПодшипникРу</text>
<text class="wm" style="mix-blend-mode:multiply" transform="translate(1230.75,264.7) rotate(37.2)" font-size="28" letter-spacing="1.5" fill="#e0e0e0">ПодшипникРу</text>
<text class="wm" style="mix-blend-mode:multiply" transform="translate(179.5,460.5) rotate(37.2)" font-size="28" letter-spacing="1.5" fill="#e0e0e0">ПодшипникРу</text>
<text class="wm" style="mix-blend-mode:multiply" transform="translate(600.0,460.5) rotate(37.2)" font-size="28" letter-spacing="1.5" fill="#e0e0e0">ПодшипникРу</text>
<text class="wm" style="mix-blend-mode:multiply" transform="translate(1020.5,460.5) rotate(37.2)" font-size="28" letter-spacing="1.5" fill="#e0e0e0">ПодшипникРу</text>
</svg></body></html>
